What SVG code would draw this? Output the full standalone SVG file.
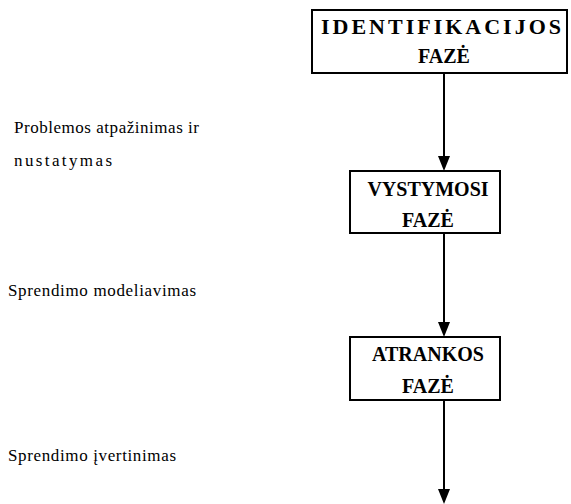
<svg xmlns="http://www.w3.org/2000/svg" width="571" height="504" viewBox="0 0 571 504">
<style>
.box{fill:#fff;stroke:#000;stroke-width:2}
.bt{font-family:'Liberation Serif','Times New Roman','DejaVu Serif',serif;font-weight:bold;font-size:20px;fill:#000;text-anchor:middle}
.big{font-size:22px}
.lt{font-family:'Liberation Serif','Times New Roman','DejaVu Serif',serif;font-size:17px;fill:#000}
.conn{stroke:#000;stroke-width:2;fill:none}
.head{fill:#000}
</style>
<rect width="571" height="504" fill="#fff"/>
<g id="connectors">
<line class="conn" x1="444" y1="73" x2="444" y2="158"/>
<line class="conn" x1="444" y1="233" x2="444" y2="325"/>
<line class="conn" x1="444" y1="400" x2="444" y2="491"/>
<path class="head" d="M438,156 L450,156 L444,171 Z"/>
<path class="head" d="M438,322 L450,322 L444,337 Z"/>
<path class="head" d="M438,489 L450,489 L444,504 Z"/>
</g>
<g id="node-identifikacijos">
<rect class="box" x="312" y="10" width="255" height="63"/>
<text class="bt big" x="441" y="34" textLength="240" lengthAdjust="spacing">IDENTIFIKACIJOS</text>
<text class="bt" x="444" y="63">FAZĖ</text>
</g>
<g id="node-vystymosi">
<rect class="box" x="350" y="171" width="150" height="62"/>
<text class="bt" x="428" y="196">VYSTYMOSI</text>
<text class="bt" x="428" y="227">FAZĖ</text>
</g>
<g id="node-atrankos">
<rect class="box" x="350" y="337" width="150" height="63"/>
<text class="bt" x="428" y="361">ATRANKOS</text>
<text class="bt" x="428" y="393">FAZĖ</text>
</g>
<g id="labels">
<text class="lt" x="14" y="133" textLength="185" lengthAdjust="spacing">Problemos atpažinimas ir</text>
<text class="lt" x="14" y="166" textLength="98" lengthAdjust="spacing">nustatymas</text>
<text class="lt" x="8" y="296" textLength="188" lengthAdjust="spacing">Sprendimo modeliavimas</text>
<text class="lt" x="8" y="461" textLength="168" lengthAdjust="spacing">Sprendimo įvertinimas</text>
</g>
</svg>
